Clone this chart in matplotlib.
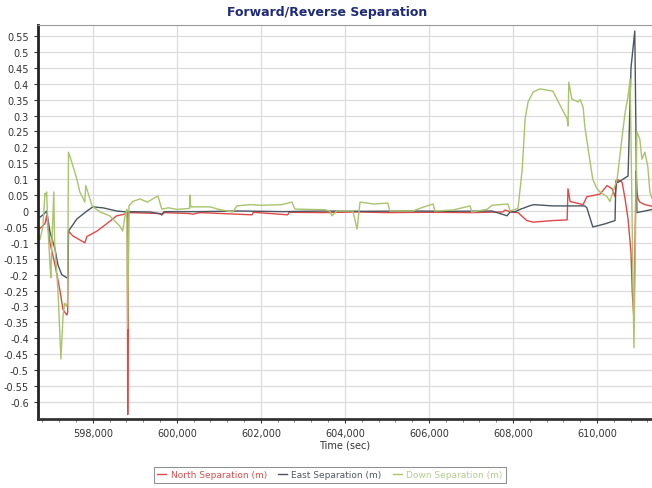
import numpy as np
import matplotlib
matplotlib.use('Agg')
import matplotlib.pyplot as plt
from matplotlib.ticker import MultipleLocator, FixedLocator, FuncFormatter

# Time (sec) / separation (m)
north_t = [596690, 596740, 596860, 596900, 596980, 597100, 597210, 597290, 597380, 597400,
           597420, 597520, 597810, 597860, 598100, 598330, 598570, 598760, 598820, 598830,
           598850, 599120, 599600, 599640, 599700, 600300, 600380, 600550, 601790, 601820,
           602640, 602670, 603500, 604290, 605000, 606000, 607000, 607760, 607810, 607930,
           608000, 608120, 608330, 608480, 608950, 609290, 609310, 609360, 609670, 609760,
           609880, 610070, 610240, 610360, 610430, 610480, 610600, 610670, 610740, 610810,
           610840, 610880, 610930, 610950, 610980, 611020, 611140, 611310]
north_v = [-0.06, -0.055, -0.04, -0.015, -0.10, -0.17, -0.245, -0.31, -0.327, -0.32,
           -0.063, -0.078, -0.10, -0.08, -0.063, -0.04, -0.015, -0.01, 0.0, -0.64,
           -0.005, -0.006, -0.008, -0.013, -0.005, -0.008, -0.01, -0.005, -0.012, -0.004,
           -0.012, -0.004, -0.005, -0.003, -0.005, -0.004, -0.005, -0.003, 0.003, -0.002,
           -0.004, -0.005, -0.03, -0.035, -0.03, -0.028, 0.07, 0.03, 0.02, 0.045,
           0.048, 0.053, 0.08, 0.07, 0.045, 0.10, 0.09, 0.037, -0.025, -0.13,
           -0.255, -0.34, 0.126, 0.06, 0.038, 0.028, 0.02, 0.015]

east_t = [596690, 596830, 596900, 596980, 597100, 597170, 597260, 597380, 597400, 597420,
          597620, 597860, 598000, 598240, 598570, 598810, 598830, 598850, 599360, 599640,
          599700, 600500, 601500, 602500, 603500, 604500, 605500, 606500, 607500, 607860,
          607930, 608050, 608170, 608410, 608500, 608950, 609710, 609760, 609900, 610000,
          610200, 610430, 610450, 610500, 610740, 610810, 610900, 610950, 611020, 611140,
          611310]
east_v = [-0.025, -0.01, 0.0, -0.066, -0.12, -0.17, -0.20, -0.21, -0.21, -0.063,
          -0.025, 0.0, 0.013, 0.01, 0.0, -0.003, -0.02, -0.002, -0.003, -0.01,
          -0.002, -0.002, 0.0, -0.002, 0.0, -0.001, 0.0, -0.001, 0.0, -0.015,
          -0.003, -0.002, 0.005, 0.017, 0.02, 0.016, 0.016, 0.01, -0.05, -0.047,
          -0.04, -0.03, 0.095, 0.09, 0.11, 0.45, 0.566, -0.005, -0.003, 0.0,
          0.005]

down_t = [596690, 596740, 596810, 596860, 596880, 596900, 596930, 596980, 597000, 597020,
          597070, 597090, 597170, 597240, 597290, 597330, 597380, 597400, 597420, 597500,
          597620, 597690, 597810, 597830, 597880, 597980, 598170, 598400, 598640, 598710,
          598760, 598810, 598830, 598860, 598950, 599120, 599300, 599450, 599550, 599640,
          599800, 600000, 600300, 600310, 600330, 600790, 601000, 601330, 601430, 601740,
          602000, 602500, 602740, 602810, 603520, 603640, 603690, 603810, 604190, 604290,
          604360, 604700, 605020, 605070, 605620, 605860, 606100, 606140, 606570, 606980,
          607020, 607380, 607500, 607880, 607930, 608120, 608220, 608290, 608360, 608480,
          608640, 608950, 609170, 609290, 609310, 609330, 609400, 609550, 609600, 609670,
          609710, 609790, 609900, 610000, 610070, 610240, 610310, 610380, 610480, 610600,
          610670, 610740, 610790, 610880, 610950, 611020, 611070, 611140, 611210, 611260,
          611310]
down_v = [-0.06, -0.09, -0.05, 0.055, 0.05, 0.06, -0.05, -0.17, -0.21, -0.12,
          0.06, -0.10, -0.25, -0.465, -0.33, -0.29, -0.30, -0.28, 0.185, 0.153,
          0.10, 0.06, 0.028, 0.08, 0.06, 0.016, -0.003, -0.015, -0.047, -0.063,
          -0.02, 0.006, -0.37, 0.016, 0.03, 0.038, 0.028, 0.04, 0.047, 0.006,
          0.01, 0.005, 0.008, 0.05, 0.013, 0.013, 0.005, -0.003, 0.016, 0.02,
          0.018, 0.02, 0.028, 0.006, 0.004, 0.0, -0.015, 0.0, 0.0, -0.057,
          0.028, 0.022, 0.025, 0.0, 0.0, 0.012, 0.022, 0.0, 0.003, 0.016,
          -0.003, 0.005, 0.018, 0.022, 0.0, 0.008, 0.13, 0.29, 0.343, 0.374,
          0.384, 0.377, 0.32, 0.29, 0.267, 0.405, 0.352, 0.343, 0.35, 0.327,
          0.267, 0.195, 0.10, 0.07, 0.06, 0.045, 0.03, 0.06, 0.10, 0.235,
          0.31, 0.36, 0.415, -0.43, 0.25, 0.226, 0.163, 0.185, 0.14, 0.06,
          0.04]

y_ticks = [round(-0.6 + 0.05 * i, 2) for i in range(24)]

series = [
    ('North Separation (m)', north_t, north_v, '#e04848', '#d85050'),
    ('East Separation (m)', east_t, east_v, '#4c5660', '#505860'),
    ('Down Separation (m)', down_t, down_v, '#a9c46c', '#b4cc90'),
]

fig = plt.figure(figsize=(6.52, 4.89), dpi=100)
ax = fig.add_axes([0.058, 0.141, 0.942, 0.806])

for name, t, v, c, tc in series:
    ax.plot(t, v, color=c, lw=1.0, label=name)

ax.set_xlim(596690, 611310)
ax.set_ylim(-0.654, 0.585)

ax.yaxis.set_major_locator(FixedLocator(y_ticks))
ax.yaxis.set_major_formatter(FuncFormatter(lambda v, p: '0' if abs(v) < 1e-9 else f'{v:g}'))
ax.xaxis.set_major_locator(MultipleLocator(2000))
ax.xaxis.set_minor_locator(MultipleLocator(400))
ax.xaxis.set_major_formatter(FuncFormatter(lambda v, p: f'{int(v):,}'))

ax.grid(True, which='major', color='#dcdcdc', lw=0.9)
ax.set_axisbelow(True)
ax.tick_params(labelsize=7, colors='#333333', length=3, width=0.8)
ax.tick_params(which='minor', length=2, color='#666666')

ax.spines['right'].set_visible(False)
ax.spines['top'].set_color('#999999')
ax.spines['top'].set_linewidth(0.8)
ax.spines['left'].set_linewidth(2)
ax.spines['bottom'].set_linewidth(2)
ax.spines['left'].set_color('#222222')
ax.spines['bottom'].set_color('#333333')

ax.set_xlabel('Time (sec)', fontsize=7, color='#333333', labelpad=1)

fig.text(0.502, 0.975, 'Forward/Reverse Separation', ha='center', va='center',
         fontsize=9, fontweight='bold', color='#1f2a78')

leg = fig.legend(loc='center', bbox_to_anchor=(0.506, 0.027), ncol=3, fontsize=6.5,
                 frameon=True, fancybox=False, handlelength=1.0, handletextpad=0.5,
                 columnspacing=1.2, borderpad=0.4)
leg.get_frame().set_edgecolor('#777777')
leg.get_frame().set_linewidth(0.8)
for txt, s in zip(leg.get_texts(), series):
    txt.set_color(s[4])

fig.savefig('out.png', dpi=100)
